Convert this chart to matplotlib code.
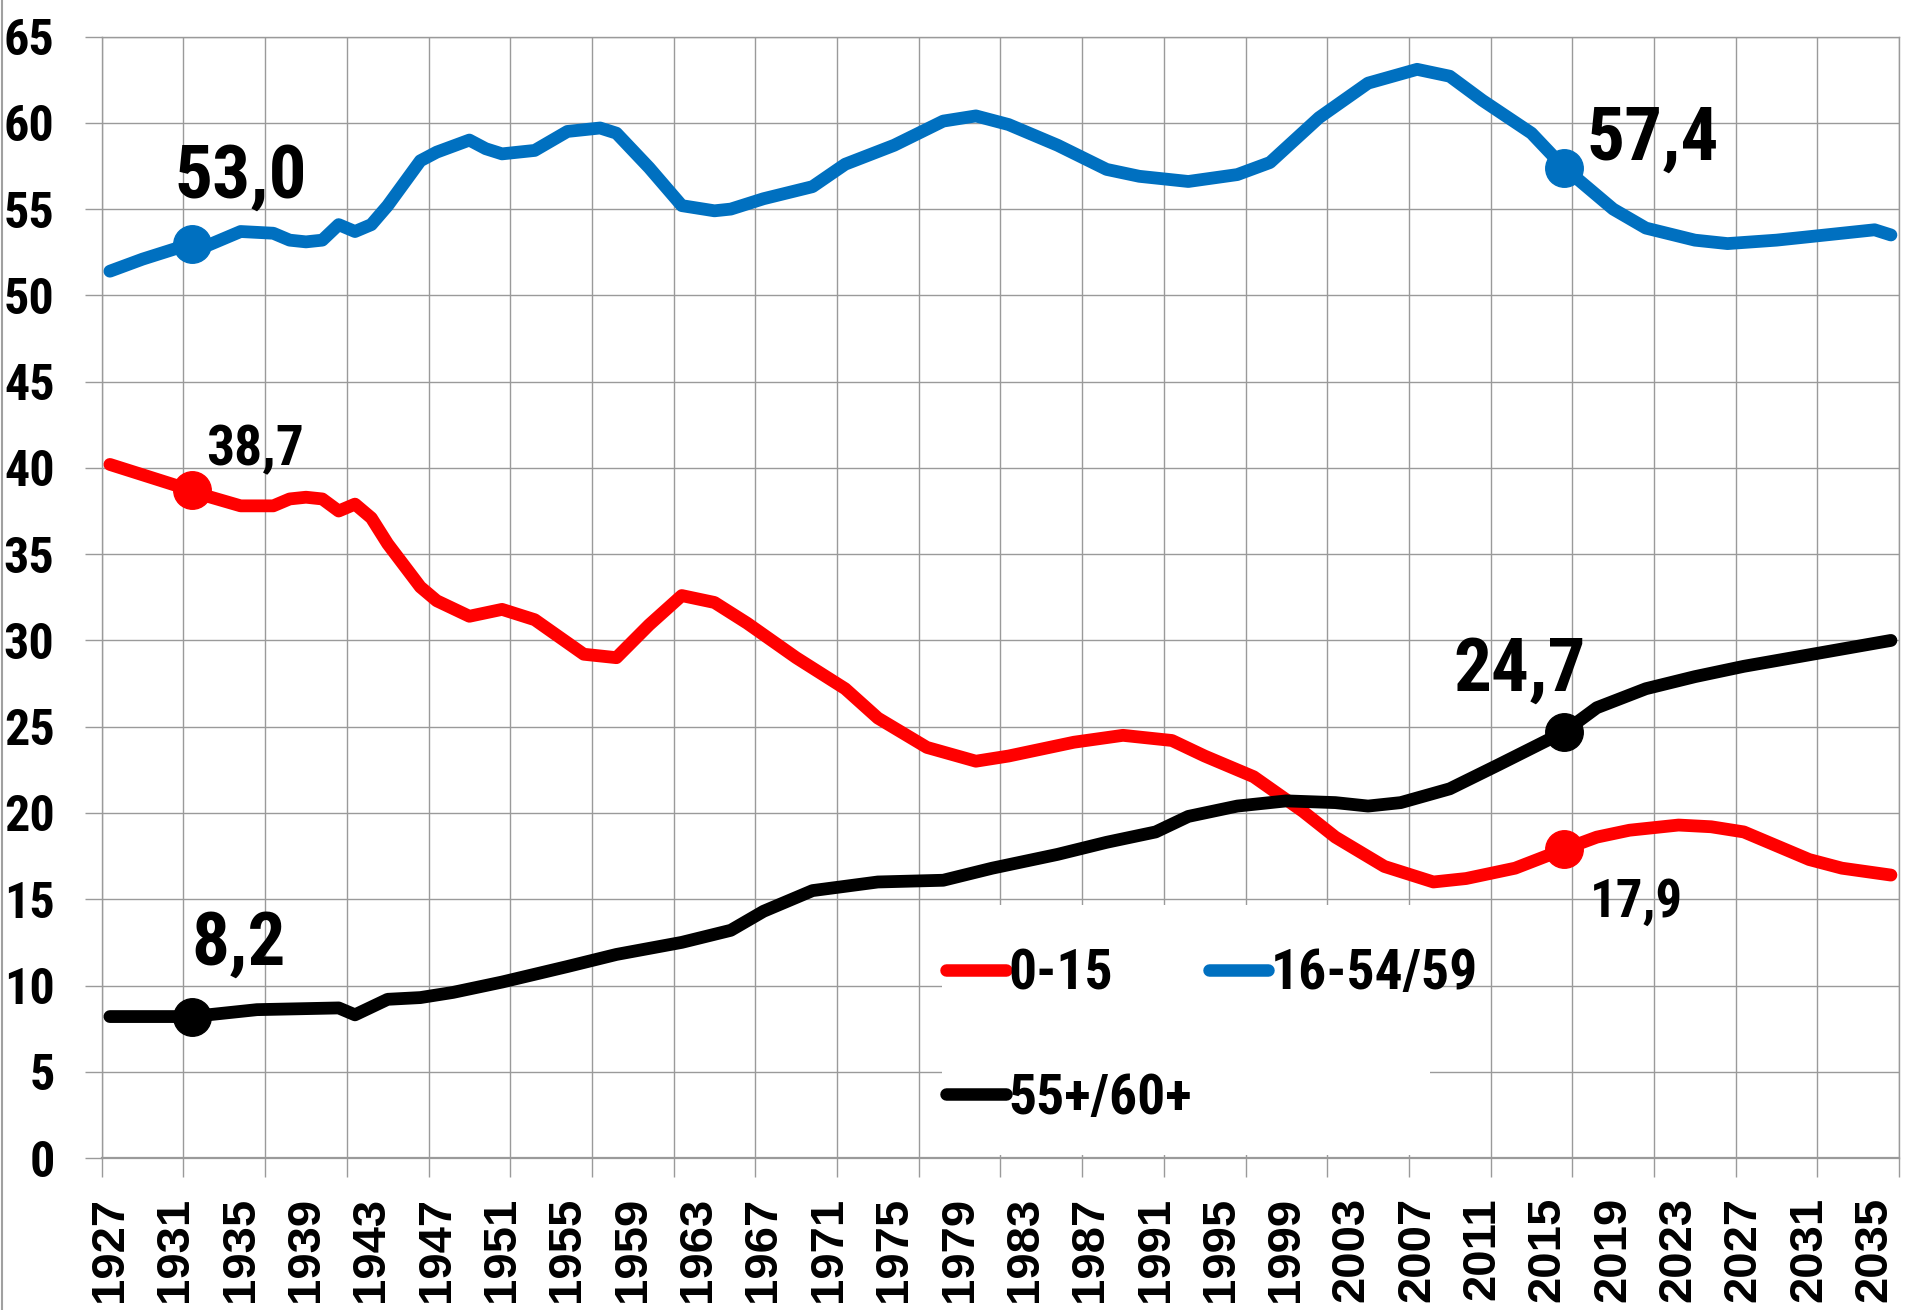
import numpy as np
import matplotlib
matplotlib.use("Agg")
import matplotlib.pyplot as plt
from matplotlib.lines import Line2D
from matplotlib.patches import Rectangle

narrow = ['Liberation Sans Narrow', 'Roboto Condensed', 'DejaVu Sans Condensed', 'Liberation Sans']
plt.rcParams['font.family'] = narrow
plt.rcParams['font.weight'] = 'bold'

# Share of age groups, %
years_young = [1927, 1929, 1932, 1933, 1935, 1937, 1938, 1939, 1940, 1941, 1942, 1943,
               1944, 1946, 1947, 1949, 1951, 1953, 1956, 1958, 1960, 1962, 1964, 1966,
               1969, 1972, 1974, 1977, 1980, 1982, 1986, 1989, 1992, 1994, 1997, 2000,
               2002, 2005, 2008, 2010, 2013, 2016, 2018, 2020, 2023, 2025, 2027, 2029,
               2031, 2033, 2036]
young = [40.2, 39.6, 38.7, 38.35, 37.8, 37.8, 38.2, 38.3, 38.2, 37.5, 37.9, 37.1,
         35.6, 33.1, 32.3, 31.4, 31.8, 31.2, 29.2, 29.0, 30.9, 32.6, 32.2, 31.0,
         29.0, 27.2, 25.5, 23.8, 23.0, 23.3, 24.1, 24.5, 24.2, 23.3, 22.1, 20.1,
         18.6, 16.9, 16.0, 16.2, 16.8, 17.9, 18.6, 19.0, 19.3, 19.2, 18.9, 18.1,
         17.3, 16.8, 16.4]

years_work = [1927, 1929, 1932, 1933, 1935, 1937, 1938, 1939, 1940, 1941, 1942, 1943,
              1944, 1946, 1947, 1949, 1950, 1951, 1953, 1955, 1957, 1958, 1960, 1962,
              1964, 1965, 1967, 1970, 1972, 1975, 1978, 1980, 1982, 1985, 1988, 1990,
              1993, 1996, 1998, 2001, 2004, 2007, 2009, 2011, 2014, 2016, 2019, 2021,
              2024, 2026, 2029, 2031, 2035, 2036]
work = [51.4, 52.1, 53.0, 52.9, 53.7, 53.6, 53.2, 53.1, 53.2, 54.1, 53.7, 54.1,
        55.2, 57.8, 58.3, 59.0, 58.5, 58.2, 58.4, 59.5, 59.7, 59.4, 57.4, 55.2,
        54.9, 55.0, 55.6, 56.3, 57.6, 58.7, 60.1, 60.4, 59.9, 58.7, 57.3, 56.9,
        56.6, 57.0, 57.7, 60.3, 62.3, 63.1, 62.7, 61.3, 59.4, 57.4, 55.0, 53.9,
        53.2, 53.0, 53.2, 53.4, 53.8, 53.5]

years_old = [1927, 1932, 1936, 1941, 1942, 1944, 1946, 1948, 1951, 1955, 1958, 1962,
             1965, 1967, 1970, 1974, 1978, 1981, 1985, 1988, 1991, 1993, 1996, 1999,
             2002, 2004, 2006, 2009, 2012, 2016, 2018, 2021, 2024, 2027, 2030, 2033,
             2036]
old = [8.2, 8.2, 8.6, 8.7, 8.3, 9.2, 9.3, 9.6, 10.2, 11.1, 11.8, 12.5,
       13.2, 14.3, 15.5, 16.0, 16.1, 16.8, 17.6, 18.3, 18.9, 19.8, 20.4, 20.7,
       20.6, 20.4, 20.6, 21.4, 22.8, 24.7, 26.1, 27.2, 27.9, 28.5, 29.0, 29.5,
       30.0]

marker_years = [1932, 2016]
labels = ['0-15', '16-54/59', '55+/60+']
label_years = list(range(1927, 2036, 4))

fig = plt.figure(figsize=(19.05, 13.10), dpi=100)
ax = fig.add_axes([0.0534, 0.1160, 0.9435, 0.8561])

grid_c = '#9a9a9a'
ax.set_xlim(1926.5, 2036.5)
ax.set_ylim(0, 65)
ax.set_xticks(np.arange(1926.5, 2037, 5))
ax.set_xticklabels([])
ax.set_xticks(label_years, minor=True)
ax.set_xticklabels([str(y) for y in label_years], minor=True, rotation=90,
                   family=['Liberation Sans', 'DejaVu Sans'], fontsize=34, fontweight='bold')
ax.set_yticks(np.arange(0, 66, 5))
ax.set_yticklabels([str(v) for v in range(0, 66, 5)], fontsize=36, fontweight='bold')
ax.tick_params(axis='x', which='major', length=14, width=1, color=grid_c, direction='out')
ax.tick_params(axis='x', which='minor', length=0, pad=28)
ax.tick_params(axis='y', length=12, width=1, color=grid_c, pad=22, direction='out')
ax.grid(True, which='major', color=grid_c, linewidth=1.0)
ax.set_axisbelow(True)
for s in ax.spines.values():
    s.set_color(grid_c)
    s.set_linewidth(1.0)
ax.spines['bottom'].set_linewidth(1.6)

series = [
    (years_young, young, '#ff0000'),
    (years_work, work, '#0070c0'),
    (years_old, old, '#000000'),
]
handles = []
for yrs, vals, col in series:
    idx = [yrs.index(m) for m in marker_years]
    ax.plot(yrs, vals, color=col, lw=9.2, solid_capstyle='round',
            solid_joinstyle='round', marker='o', markersize=27,
            markevery=idx, zorder=3, clip_on=False)
    handles.append(Line2D([0], [0], color=col, lw=9, solid_capstyle='round'))

# legend background
ax.add_patch(Rectangle((0.4675, 0.0027), 0.2715, 0.223, transform=ax.transAxes,
                       facecolor='white', edgecolor='none', zorder=1))
ax.legend([handles[0], handles[2], handles[1]], [labels[0], labels[2], labels[1]],
          ncol=2, frameon=False, loc='upper left', bbox_to_anchor=(0.470, 0.187),
          fontsize=40, handlelength=1.07, handletextpad=0.05, columnspacing=0.3,
          labelspacing=1.3, borderpad=0, borderaxespad=0)

# data labels
big = 54
ax.text(1935.0, 55.65, '53,0', fontsize=big, ha='center', va='baseline', zorder=4)
ax.text(1935.9, 40.15, '38,7', fontsize=40, ha='center', va='baseline', zorder=4)
ax.text(1934.9, 11.18, '8,2', fontsize=big, ha='center', va='baseline', zorder=4)
ax.text(2021.4, 57.88, '57,4', fontsize=big, ha='center', va='baseline', zorder=4)
ax.text(2013.3, 27.11, '24,7', fontsize=big, ha='center', va='baseline', zorder=4)
ax.text(2020.45, 13.96, '17,9', fontsize=38, ha='center', va='baseline', zorder=4)

fig.add_artist(Line2D([0.001, 0.001], [0, 1], color='#a0a0a0', lw=1.5))

fig.savefig('out.png', dpi=100, facecolor='white')
